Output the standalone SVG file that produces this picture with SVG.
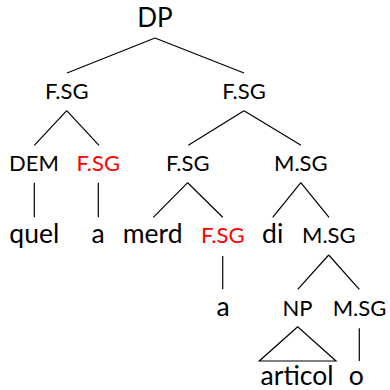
<svg xmlns="http://www.w3.org/2000/svg" width="390" height="390" viewBox="0 0 390 390">
<style>
text{font-family:Lato,"Open Sans","Liberation Sans",sans-serif;text-anchor:middle;fill:#000}
.w{font-size:26.5px}
.l{font-size:22px}
.r{fill:#ff0000}
.top{font-size:26px}
#edges line,#edges polygon{stroke:#000;stroke-width:1.2;fill:none}
</style>
<rect width="390" height="390" fill="#fff"/>
<g id="edges">
<line x1="155" y1="38" x2="67" y2="73"/>
<line x1="155" y1="38" x2="244" y2="73"/>
<line x1="66.7" y1="110.7" x2="34.3" y2="145.3"/>
<line x1="66.7" y1="110.7" x2="99" y2="145.3"/>
<line x1="244" y1="110.7" x2="188.3" y2="145.3"/>
<line x1="244" y1="110.7" x2="301" y2="145.3"/>
<line x1="34.3" y1="182.7" x2="34.3" y2="217.3"/>
<line x1="98.3" y1="182.7" x2="98.3" y2="217.3"/>
<line x1="187.7" y1="182.7" x2="153.3" y2="217.3"/>
<line x1="187.7" y1="182.7" x2="222.7" y2="217.3"/>
<line x1="300.8" y1="182.7" x2="272.7" y2="217.3"/>
<line x1="300.8" y1="182.7" x2="329" y2="217.3"/>
<line x1="222.7" y1="256" x2="222.7" y2="289.3"/>
<line x1="328.7" y1="255" x2="297.7" y2="289.3"/>
<line x1="328.7" y1="255" x2="359.3" y2="289.3"/>
<polygon points="297.7,326.7 259.3,361 336,361"/>
<line x1="359.3" y1="328.3" x2="359.3" y2="361"/>
</g>
<g id="n-dp"><text class="top" x="155" y="27.3">DP</text></g>
<g id="n-fsg1"><text class="l" x="66.7" y="99.3">F.SG</text></g>
<g id="n-fsg2"><text class="l" x="244" y="99.3">F.SG</text></g>
<g id="n-dem"><text class="l" x="34" y="170.7">DEM</text></g>
<g id="n-fsg3"><text class="l r" x="98.3" y="170.7">F.SG</text></g>
<g id="n-fsg4"><text class="l" x="187.7" y="170.7">F.SG</text></g>
<g id="n-msg1"><text class="l" x="300.8" y="170.7">M.SG</text></g>
<g id="n-quel"><text class="w" x="34.3" y="243.3">quel</text></g>
<g id="n-a1"><text class="w" x="98" y="243.3">a</text></g>
<g id="n-merd"><text class="w" x="152.7" y="243.3">merd</text></g>
<g id="n-fsg5"><text class="l r" x="222.8" y="243.3">F.SG</text></g>
<g id="n-di"><text class="w" x="272.7" y="243.3">di</text></g>
<g id="n-msg2"><text class="l" x="328.8" y="243.3">M.SG</text></g>
<g id="n-a2"><text class="w" x="223" y="316">a</text></g>
<g id="n-np"><text class="l" x="297.5" y="316">NP</text></g>
<g id="n-msg3"><text class="l" x="359.5" y="316">M.SG</text></g>
<g id="n-articol"><text class="w" x="297" y="385">articol</text></g>
<g id="n-o"><text class="w" x="356.3" y="385">o</text></g>
</svg>
